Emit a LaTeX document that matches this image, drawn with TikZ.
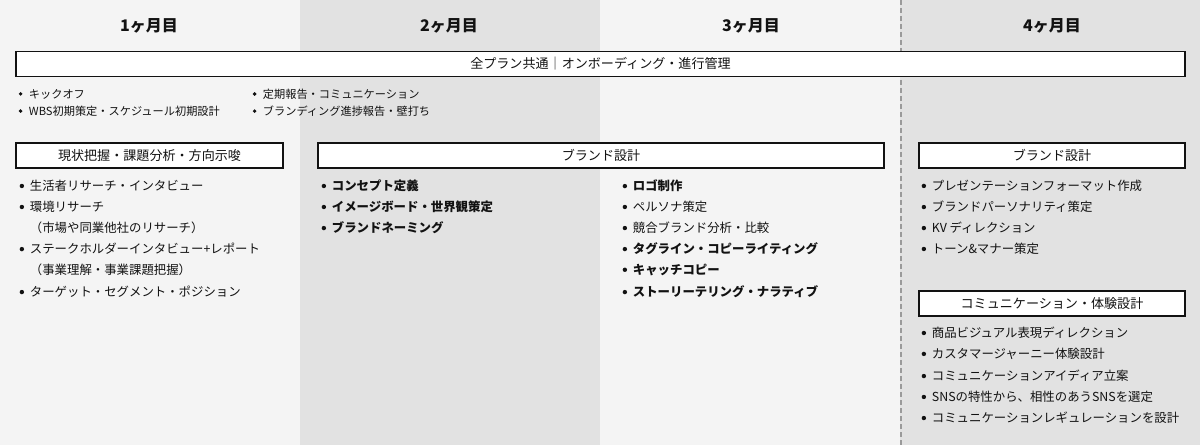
\documentclass[tikz,border=0pt]{standalone}
\usepackage{fontspec}
\setmainfont{Noto Sans CJK JP}
\definecolor{bglight}{HTML}{F4F4F4}
\definecolor{bgdark}{HTML}{E2E2E2}
\definecolor{ink}{HTML}{121212}
\definecolor{dashgray}{HTML}{9A9A9A}
\newcommand\bdot{\raisebox{1.9pt}{\tikz\fill[ink] (0,0) circle (1.65pt);}}
\newcommand\sdot{\raisebox{1.7pt}{\tikz\fill[ink] (0,0) circle (1.45pt);}}
\newcommand\bul{\makebox[8pt][l]{\hspace{0.3pt}\bdot}}
\newcommand\tbul{\makebox[8pt][l]{\hspace{0.3pt}\sdot}}
\newcommand\nobul{\makebox[8pt][l]{}}
\begin{document}
\begin{tikzpicture}[x=0.75pt,y=-0.75pt,
  hdr/.style={font=\fontsize{12}{14}\selectfont\bfseries, text=ink, inner sep=0},
  bar/.style={draw=ink, line width=1.1pt, fill=white, inner sep=0, minimum height=18.75pt, text=ink, font=\fontsize{9.8}{11}\selectfont},
  item/.style={anchor=west, inner sep=0, text=ink, font=\fontsize{9.3}{11}\selectfont},
  bitem/.style={item, font=\fontsize{9.3}{11}\selectfont\bfseries},
  topitem/.style={anchor=west, inner sep=0, text=ink, font=\fontsize{8.4}{10}\selectfont},
  dashline/.style={draw=dashgray, line width=1.5pt, dash pattern=on 3.75pt off 2.25pt}
]
\useasboundingbox (0,0) rectangle (1200,445);
% column backgrounds
\fill[bglight] (0,0) rectangle (300,445);
\fill[bgdark] (300,0) rectangle (600,445);
\fill[bglight] (600,0) rectangle (900,445);
\fill[bgdark] (900,0) rectangle (1200,445);
\coordinate (dtop) at (900.5,0);
\coordinate (dbot) at (900.5,445);
\draw[dashline] (dtop) -- (dbot);

% headers
\node[hdr] (h1) at (149,26) {1ヶ月目};
\node[hdr] (h2) at (449,26) {2ヶ月目};
\node[hdr] (h3) at (751,26) {3ヶ月目};
\node[hdr] (h4) at (1052,26) {4ヶ月目};

% top bar
\node[bar, minimum width=876.75pt] (topbar) at (600.5,64) {全プラン共通｜オンボーディング・進行管理};

% top bullets
\node[topitem] (t1) at (18,94) {\tbul キックオフ};
\node[topitem] (t2) at (18,111) {\tbul WBS初期策定・スケジュール初期設計};
\node[topitem] (t3) at (252,94) {\tbul 定期報告・コミュニケーション};
\node[topitem] (t4) at (252,111) {\tbul ブランディング進捗報告・壁打ち};

% column 1
\node[bar, minimum width=200.25pt] (b1) at (149.5,155.5) {現状把握・課題分析・方向示唆};
\node[item] (c1a) at (19,186) {\bul 生活者リサーチ・インタビュー};
\node[item] (c1b) at (19,207) {\bul 環境リサーチ};
\node[item] (c1c) at (19,228) {\nobul （市場や同業他社のリサーチ）};
\node[item] (c1d) at (19,249) {\bul ステークホルダーインタビュー+レポート};
\node[item] (c1e) at (19,270) {\nobul （事業理解・事業課題把握）};
\node[item] (c1f) at (19,292) {\bul ターゲット・セグメント・ポジション};

% columns 2-3
\node[bar, minimum width=424.5pt] (b23) at (601,155.5) {ブランド設計};
\node[bitem] (c2a) at (321,186) {\bul コンセプト定義};
\node[bitem] (c2b) at (321,207) {\bul イメージボード・世界観策定};
\node[bitem] (c2c) at (321,228) {\bul ブランドネーミング};

\node[bitem] (c3a) at (622,186) {\bul ロゴ制作};
\node[item]  (c3b) at (622,207) {\bul ペルソナ策定};
\node[item]  (c3c) at (622,228) {\bul 競合ブランド分析・比較};
\node[bitem] (c3d) at (622,249) {\bul タグライン・コピーライティング};
\node[bitem] (c3e) at (622,270) {\bul キャッチコピー};
\node[bitem] (c3f) at (622,292) {\bul ストーリーテリング・ナラティブ};

% column 4
\node[bar, minimum width=199.5pt] (b4a) at (1052,155.5) {ブランド設計};
\node[item] (c4a) at (921,186) {\bul プレゼンテーションフォーマット作成};
\node[item] (c4b) at (921,207) {\bul ブランドパーソナリティ策定};
\node[item] (c4c) at (921,228) {\bul KV ディレクション};
\node[item] (c4d) at (921,249) {\bul トーン\&マナー策定};

\node[bar, minimum width=199.5pt] (b4b) at (1052,303.5) {コミュニケーション・体験設計};
\node[item] (c4e) at (921,333) {\bul 商品ビジュアル表現ディレクション};
\node[item] (c4f) at (921,354) {\bul カスタマージャーニー体験設計};
\node[item] (c4g) at (921,376) {\bul コミュニケーションアイディア立案};
\node[item] (c4h) at (921,397) {\bul SNSの特性から、相性のあうSNSを選定};
\node[item] (c4i) at (921,418) {\bul コミュニケーションレギュレーションを設計};
\end{tikzpicture}
\end{document}
